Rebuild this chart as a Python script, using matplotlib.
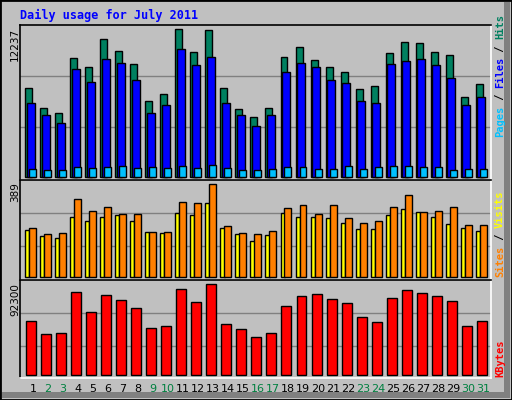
import numpy as np
import matplotlib.pyplot as plt
from matplotlib.patches import Rectangle

days = np.arange(1, 32)
weekend = [2, 3, 9, 10, 16, 17, 23, 24, 30, 31]

hits = [7339, 5679, 5263, 9829, 9082, 11407, 10411, 9331, 6260, 6841, 12237, 10328, 12154, 7339, 5596, 4931,
        5679, 9912, 10743, 9663, 9082, 8667, 7256, 7505, 10245, 11158, 11075, 10328, 10079, 6592, 7671]
files = [6094, 5098, 4433, 8916, 7837, 9746, 9414, 7987, 5263, 5928, 10577, 9248, 9912, 6094, 5098, 4184,
         5098, 8667, 9414, 9082, 7987, 7754, 6260, 6094, 9331, 9580, 9746, 9248, 8169, 5928, 6592]
pages = [614, 531, 531, 780, 697, 780, 863, 697, 780, 697, 863, 697, 946, 697, 531, 531,
         614, 780, 780, 614, 614, 863, 614, 780, 863, 863, 780, 780, 531, 614, 614]
sites = [195, 170, 161, 253, 236, 253, 258, 236, 186, 182, 267, 258, 309, 207, 178, 149,
         174, 267, 250, 253, 245, 228, 199, 199, 258, 283, 271, 250, 221, 204, 191]
visits = [207, 178, 182, 326, 278, 292, 262, 262, 186, 186, 313, 309, 389, 212, 182, 178,
          191, 288, 300, 262, 300, 245, 224, 233, 292, 342, 271, 278, 292, 216, 216]
kbytes = [55227, 42086, 43097, 84530, 64317, 81498, 76445, 68360, 48151, 50172, 87562, 74424, 92300, 52196,
          47141, 39056, 43097, 70381, 80487, 82509, 77456, 73413, 59264, 54206, 78466, 86551, 83519, 80487, 75434, 50172, 55227]

W, H = 512, 400
GRAY = '#C0C0C0'
fig = plt.figure(figsize=(W / 100, H / 100), dpi=100, facecolor=GRAY)


def px_axes(x0, y0, x1, y1):
    ax = fig.add_axes([x0 / W, 1 - y1 / H, (x1 - x0) / W, (y1 - y0) / H])
    ax.set_facecolor(GRAY)
    ax.set_xticks([])
    ax.set_yticks([])
    ax.set_xlim(0.133, 31.51)
    for s in ax.spines.values():
        s.set_color('black')
        s.set_linewidth(1.2)
    ax.spines['right'].set_color('white')
    ax.spines['bottom'].set_color('white')
    return ax


def grid(ax, ys):
    for y in ys:
        ax.axhline(y, color='#808080', lw=1, zorder=0)


bk = dict(edgecolor='black', linewidth=1, align='edge')

# hits / files / pages
ax1 = px_axes(20, 25, 491, 180)
ax1.set_ylim(-274, 12594)
grid(ax1, [4101, 8335])
ax1.bar(days + 0.487 - 1, hits, width=0.466, color='#008060', **bk)
ax1.bar(days + 0.6 - 1, files, width=0.513, color='#0000FF', **bk)
ax1.bar(days + 0.753 - 1, pages, width=0.466, color='#00C0FF', **bk)

# sites / visits
ax2 = px_axes(20, 180, 491, 280)
ax2.set_ylim(-14, 407)
grid(ax2, [128, 267])
ax2.bar(days + 0.487 - 1, sites, width=0.27, color='#FFFF00', **bk)
ax2.bar(days + 0.753 - 1, visits, width=0.466, color='#FF8000', **bk)

# kbytes
ax3 = px_axes(20, 280, 491, 378)
ax3.set_ylim(-2630, 96690)
grid(ax3, [30010, 62960])
ax3.bar(days + 0.553 - 1, kbytes, width=0.666, color='#FF0000', **bk)

for d in days:
    fig.text((18 + 15 * d) / W, 1 - 389 / H, str(d), ha='center', va='center', fontsize=8,
             color='#008040' if d in weekend else 'black')

mono = dict(family='DejaVu Sans Mono', fontweight='bold')
fig.text(20 / W, 1 - 15 / H, 'Daily usage for July 2011', color='#0000FF', fontsize=8.5,
         va='center', **mono)
for txt, ytop in [('12237', 28), ('389', 182), ('92300', 283)]:
    fig.text(15 / W, 1 - ytop / H, txt, rotation=90, ha='center', va='top', fontsize=7.5)


def side_label(parts, ybottom):
    y = ybottom
    for txt, col in parts:
        fig.text(500 / W, 1 - y / H, txt, rotation=90, ha='center', va='bottom', color=col,
                 fontsize=7.5, **mono)
        y -= 6.1 * len(txt)


side_label([('Pages', '#00C0FF'), (' / ', 'black'), ('Files', '#0000FF'), (' / ', 'black'),
            ('Hits', '#008060')], 137)
side_label([('Sites', '#FF8000'), (' / ', 'black'), ('Visits', '#FFFF00')], 277)
side_label([('KBytes', '#FF0000')], 377)

# frame with bevel
fig.patches.append(Rectangle((0, 0), 1, 1, transform=fig.transFigure, fill=False,
                             edgecolor='black', lw=2))
fig.patches.append(Rectangle((1 - 8 / W, 2 / H), 6 / W, 1 - 4 / H, transform=fig.transFigure,
                             color='#808080', lw=0))
fig.patches.append(Rectangle((2 / W, 2 / H), 1 - 4 / W, 6 / H, transform=fig.transFigure,
                             color='#808080', lw=0))

fig.savefig('out.png', dpi=100, facecolor=GRAY)
